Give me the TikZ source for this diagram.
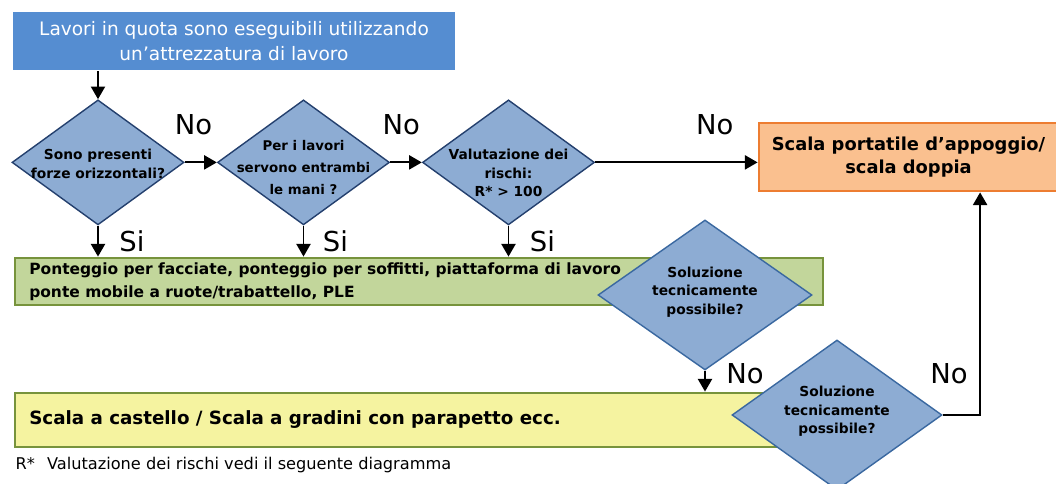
\documentclass[tikz,border=0pt]{standalone}
\usepackage{fontspec}
\setmainfont{DejaVu Sans}
\usetikzlibrary{shapes.geometric, arrows.meta}

\definecolor{topblue}{RGB}{85,141,209}
\definecolor{diafill}{RGB}{141,172,211}
\definecolor{navyline}{RGB}{36,64,110}
\definecolor{blueline}{RGB}{58,104,160}
\definecolor{orangefill}{RGB}{250,192,143}
\definecolor{orangeline}{RGB}{237,125,49}
\definecolor{greenfill}{RGB}{194,214,155}
\definecolor{greenline}{RGB}{119,147,60}
\definecolor{yellowfill}{RGB}{245,243,160}

\begin{document}
\begin{tikzpicture}[line width = 1pt,
    box/.style = {rectangle, draw, line width = 2pt, inner sep = 0pt},
    decision/.style = {diamond, draw = navyline, fill = diafill, inner sep = 0pt,
                       minimum width = 4.3cm, minimum height = 3.125cm},
    qtext/.style = {align = center, inner sep = 0pt,
                    font = \fontsize{9.8pt}{13.1pt}\selectfont\bfseries},
    boxtext/.style = {inner sep = 0pt, font = \fontsize{12.7pt}{16.5pt}\selectfont\bfseries},
    answer/.style = {inner sep = 0pt, font = \fontsize{19.5pt}{20pt}\selectfont},
    arr/.style = {line width = 1.4pt, -{Triangle[length = 9pt, width = 10pt]}}]
    \useasboundingbox (0, 0) rectangle (26.4, 12.1);
    \clip (0, 0) rectangle (26.4, 12.1);

    % start
    \node [box, draw = none, fill = topblue, minimum width = 11.05cm, minimum height = 1.45cm,
           text = white, align = center, font = \fontsize{13.2pt}{17.6pt}\selectfont]
          (start) at (5.85, 11.075) {Lavori in quota sono eseguibili utilizzando\\un'attrezzatura di lavoro};

    % questions
    \node [decision] (d1) at (2.45, 8.04) {};
    \node [qtext] (d1txt) at (2.45, 8.0) {Sono presenti\\forze orizzontali?};
    \node [decision] (d2) at (7.5875, 8.04) {};
    \node [qtext, font = \fontsize{9.5pt}{15.6pt}\selectfont\bfseries] (d2txt) at (7.5875, 7.92) {Per i lavori\\servono entrambi\\le mani ?};
    \node [decision] (d3) at (12.7125, 8.04) {};
    \node [qtext] (d3txt) at (12.7125, 7.77) {Valutazione dei\\rischi:\\R* > 100};

    % outcomes
    \node [box, draw = orangeline, fill = orangefill, minimum width = 7.475cm, minimum height = 1.7cm,
           boxtext, align = center] (ladder) at (22.7125, 8.175) {Scala portatile d’appoggio/\\scala doppia};
    \node [box, draw = greenline, fill = greenfill, minimum width = 20.2cm, minimum height = 1.175cm]
          (scaff) at (10.475, 5.0625) {};
    \node [anchor = west, align = left, inner sep = 0pt, font = \fontsize{11pt}{16.3pt}\selectfont\bfseries]
          (scafftxt) at ([xshift = 0.375cm]scaff.west)
          {Ponteggio per facciate, ponteggio per soffitti, piattaforma di lavoro\\ponte mobile a ruote/trabattello, PLE};

    \node [decision, draw = blueline, minimum width = 5.35cm, minimum height = 3.75cm] (d4) at (17.625, 4.725) {};
    \node [qtext] (d4txt) at (17.625, 4.8) {Soluzione\\tecnicamente\\possibile?};

    \node [box, draw = greenline, fill = yellowfill, minimum width = 19.625cm, minimum height = 1.35cm]
          (tower) at (10.1875, 1.6) {};
    \node [boxtext, font = \fontsize{13pt}{16.5pt}\selectfont\bfseries, anchor = west] (towertxt)
          at ([xshift = 0.375cm]tower.west) {Scala a castello / Scala a gradini con parapetto ecc.};

    \node [decision, draw = blueline, minimum width = 5.25cm, minimum height = 3.75cm] (d5) at (20.925, 1.725) {};
    \node [qtext] (d5txt) at (20.925, 1.81) {Soluzione\\tecnicamente\\possibile?};

    \node [anchor = west, inner sep = 0pt, font = \fontsize{11.5pt}{13pt}\selectfont]
          (note) at (0.375, 0.475) {R*\hspace{0.75em}Valutazione dei rischi vedi il seguente diagramma};

    % connectors
    \draw [arr] (start.south -| d1.north) -- (d1.north);
    \draw [arr] (d1.east) -- (d2.west) node [answer, midway, xshift = -0.18cm, yshift = 0.95cm] (no1) {No};
    \draw [arr] (d2.east) -- (d3.west) node [answer, midway, xshift = -0.12cm, yshift = 0.95cm] (no2) {No};
    \draw [arr] (d3.east) -- (d3.east -| ladder.west) node [answer, midway, xshift = 0.96cm, yshift = 0.95cm] (no3) {No};
    \draw [arr] (d1.south) -- (d1.south |- scaff.north) node [answer, midway, xshift = 0.85cm] (si1) {Si};
    \draw [arr] (d2.south) -- (d2.south |- scaff.north) node [answer, midway, xshift = 0.8cm] (si2) {Si};
    \draw [arr] (d3.south) -- (d3.south |- scaff.north) node [answer, midway, xshift = 0.85cm] (si3) {Si};
    \draw [arr] (d4.south) -- (d4.south |- tower.north) node [answer, midway, xshift = 1.0cm, yshift = 0.19cm] (no4) {No};
    \draw [arr] (d5.east) -| ([xshift = 1.79cm]ladder.south) node [answer, pos = 0.5, xshift = -0.78cm, yshift = 1.03cm] (no5) {No};
\end{tikzpicture}
\end{document}
